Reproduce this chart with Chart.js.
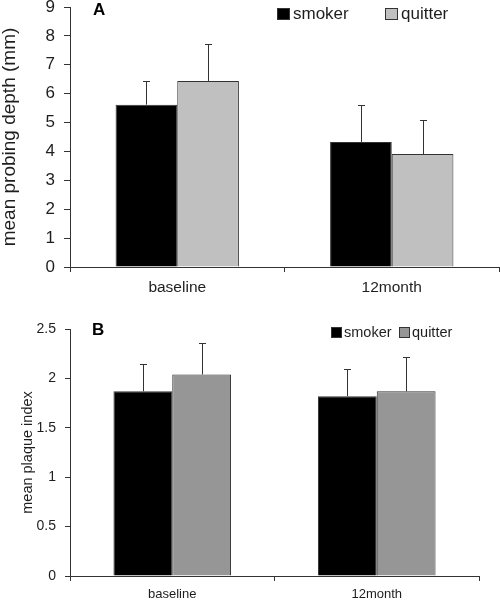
<!DOCTYPE html>
<html>
<head>
<meta charset="utf-8">
<script src="https://cdn.jsdelivr.net/npm/chart.js@4/dist/chart.umd.min.js"></script>
<style>
  html, body { margin: 0; padding: 0; background: #fff; }
  .wrap { position: relative; width: 500px; height: 602px; overflow: hidden; }
  canvas { position: absolute; left: 0; }
  #depth { top: 0; }
  #plaque { top: 300px; }
</style>
</head>
<body>
<div class="wrap">
  <canvas id="depth" width="500" height="300"></canvas>
  <canvas id="plaque" width="500" height="302"></canvas>
</div>
<script>
const categories = ['baseline', '12month'];
const seriesNames = ['smoker', 'quitter'];

// panel A: mean probing depth (mm), bar value + upper error
const depthSmoker = [5.62, 4.33];
const depthSmokerErr = [0.83, 1.28];
const depthQuitter = [6.44, 3.91];
const depthQuitterErr = [1.29, 1.18];
const depthTicks = ['0', '1', '2', '3', '4', '5', '6', '7', '8', '9'];

// panel B: mean plaque index
const plaqueSmoker = [1.87, 1.82];
const plaqueSmokerErr = [0.28, 0.28];
const plaqueQuitter = [2.04, 1.87];
const plaqueQuitterErr = [0.32, 0.35];
const plaqueTicks = ['0', '0.5', '1', '1.5', '2', '2.5'];

const FONT = 'Liberation Sans, Arial, sans-serif';
const INK = '#1e1e1e';
const AXIS = '#333';
Chart.defaults.font.family = FONT;
Chart.defaults.color = INK;

// error bars: only the upper half, with a short cap
const errorBars = {
  id: 'errorBars',
  afterDatasetsDraw(chart) {
    const ctx = chart.ctx;
    const y = chart.scales.y;
    ctx.save();
    ctx.strokeStyle = AXIS;
    ctx.lineWidth = 1;
    chart.data.datasets.forEach((ds, i) => {
      chart.getDatasetMeta(i).data.forEach((bar, j) => {
        const x = Math.round(bar.x) + 0.5;
        const top = Math.round(y.getPixelForValue(ds.data[j] + ds.errors[j])) + 0.5;
        ctx.beginPath();
        ctx.moveTo(x, bar.y);
        ctx.lineTo(x, top);
        ctx.moveTo(x - 3.5, top);
        ctx.lineTo(x + 3.5, top);
        ctx.stroke();
      });
    });
    ctx.restore();
  }
};

// legend drawn inside the plot + panel letter
const panelDecor = {
  id: 'panelDecor',
  afterDraw(chart, args, o) {
    const ctx = chart.ctx;
    ctx.save();
    ctx.font = o.fontSize + 'px ' + FONT;
    ctx.textBaseline = 'middle';
    chart.data.datasets.forEach((ds, i) => {
      const x = o.x[i];
      ctx.fillStyle = ds.backgroundColor;
      ctx.fillRect(x, o.y, o.boxW, o.boxH);
      ctx.strokeStyle = AXIS;
      ctx.lineWidth = 1;
      ctx.strokeRect(x + 0.5, o.y + 0.5, o.boxW - 1, o.boxH - 1);
      ctx.fillStyle = INK;
      ctx.fillText(ds.label, x + o.boxW + o.gap, o.y + o.boxH / 2 + 0.5);
    });
    ctx.font = 'bold ' + o.letterSize + 'px ' + FONT;
    ctx.textBaseline = 'alphabetic';
    ctx.fillStyle = '#000';
    ctx.fillText(o.letter, o.letterX, o.letterY);
    ctx.restore();
  }
};

function makeChart(id, cfg) {
  return new Chart(document.getElementById(id), {
    type: 'bar',
    data: {
      labels: categories,
      datasets: [
        { label: seriesNames[0], data: cfg.smoker, errors: cfg.smokerErr,
          backgroundColor: '#000', borderColor: AXIS, borderWidth: 1 },
        { label: seriesNames[1], data: cfg.quitter, errors: cfg.quitterErr,
          backgroundColor: cfg.quitterColor, borderColor: AXIS, borderWidth: 1 }
      ]
    },
    options: {
      responsive: false,
      animation: false,
      events: [],
      layout: { padding: cfg.padding },
      datasets: { bar: { categoryPercentage: 0.575, barPercentage: 1 } },
      plugins: {
        legend: { display: false },
        tooltip: { enabled: false },
        panelDecor: cfg.decor
      },
      scales: {
        x: {
          grid: { offset: true, drawOnChartArea: false, tickLength: 5, color: AXIS },
          border: { color: AXIS },
          ticks: { font: { size: cfg.xFont }, padding: cfg.xPad, color: INK, maxRotation: 0 },
          afterFit(s) { s.height = cfg.xHeight; s.paddingLeft = 0; s.paddingRight = 0; }
        },
        y: {
          min: 0,
          max: cfg.max,
          grid: { drawOnChartArea: false, tickLength: cfg.yTick, color: AXIS },
          border: { color: AXIS },
          ticks: {
            stepSize: cfg.step,
            font: { size: cfg.yFont },
            padding: cfg.yPad,
            color: INK,
            callback: (v, i) => cfg.ticks[i]
          },
          title: {
            display: true,
            text: cfg.title,
            color: INK,
            font: { size: cfg.titleFont, lineHeight: 1 },
            padding: { top: cfg.titlePad, bottom: 0 }
          },
          afterFit(s) { s.width = 70; s.paddingTop = 0; s.paddingBottom = 0; }
        }
      }
    },
    plugins: [errorBars, panelDecor]
  });
}

makeChart('depth', {
  smoker: depthSmoker, smokerErr: depthSmokerErr,
  quitter: depthQuitter, quitterErr: depthQuitterErr,
  quitterColor: '#c0c0c0',
  max: 9, step: 1, ticks: depthTicks,
  title: 'mean probing depth (mm)', titleFont: 19, titlePad: 0.5,
  yFont: 17, yPad: 9, yTick: 6,
  xFont: 15.5, xPad: 6, xHeight: 33,
  padding: { top: 7, right: 1, left: 0, bottom: 0 },
  decor: { x: [277, 385], y: 8, boxW: 13, boxH: 12, gap: 3, fontSize: 17,
           letter: 'A', letterSize: 17, letterX: 93, letterY: 15 }
});

makeChart('plaque', {
  smoker: plaqueSmoker, smokerErr: plaqueSmokerErr,
  quitter: plaqueQuitter, quitterErr: plaqueQuitterErr,
  quitterColor: '#969696',
  max: 2.5, step: 0.5, ticks: plaqueTicks,
  title: 'mean plaque index', titleFont: 14.5, titlePad: 20.5,
  yFont: 14, yPad: 9, yTick: 5,
  xFont: 13, xPad: 6, xHeight: 26,
  padding: { top: 29, right: 21, left: 0, bottom: 0 },
  decor: { x: [331, 399], y: 27, boxW: 11, boxH: 11, gap: 2, fontSize: 14.5,
           letter: 'B', letterSize: 17, letterX: 92, letterY: 35 }
});
</script>
</body>
</html>
